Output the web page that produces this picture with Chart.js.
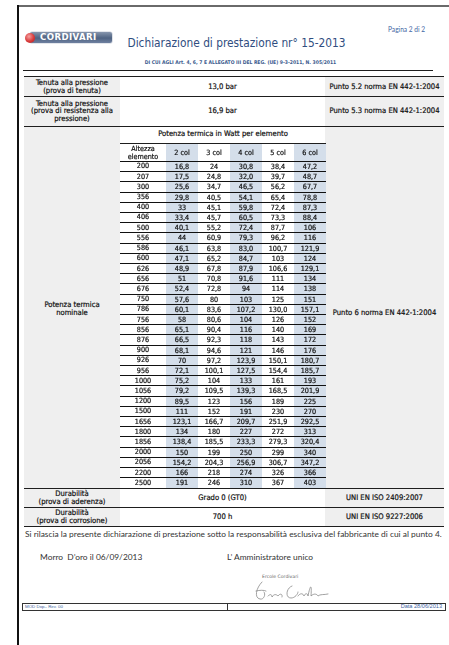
<!DOCTYPE html>
<html>
<head>
<meta charset="utf-8">
<script src="https://cdn.jsdelivr.net/npm/chart.js@4.4.0/dist/chart.umd.min.js"></script>
<style>
  html, body { margin: 0; padding: 0; background: #fff; }
  #page { position: relative; width: 449px; height: 645px; overflow: hidden;
    font-family: "DejaVu Sans Condensed", sans-serif; color: #111; }
  .abs { position: absolute; white-space: nowrap; }
  .cell { position: absolute; display: flex; align-items: center; justify-content: center;
    text-align: center; font-size: 7.6px; line-height: 7.6px; color: #111; white-space: nowrap;
    -webkit-text-stroke: 0.2px #111; }
  .gray { position: absolute; background: #efefef; }
  .hl { position: absolute; height: 1.3px; background: #1e1e1e; }
  .body { font-family: Lato, "Open Sans", sans-serif; font-size: 8.4px; color: #333; line-height: 10px; }
  .blue { color: #3f66a3; }
</style>
</head>
<body>
<div id="page">
  <!-- page frame -->
  <div class="abs" style="left:18px;top:5px;width:431px;height:1.5px;background:#6a6a6a"></div>
  <div class="abs" style="left:17px;top:5px;width:2px;height:640px;background:#111"></div>

  <!-- logo -->
  <div class="abs" style="left:30px;top:32px;width:82px;height:11px;border-radius:2px;
       background:linear-gradient(#8796ad,#4f6382 55%,#6f80a0);box-shadow:0 0 0 0.6px #c9cfd9"></div>
  <div class="abs" style="left:25px;top:32.5px;width:10px;height:10px;border-radius:50%;
       background:radial-gradient(circle at 40% 35%,#f4a0a0,#d83a3a 55%,#b01e1e)"></div>
  <div class="abs" style="left:40px;top:32px;font:bold 8.6px 'DejaVu Sans',sans-serif;letter-spacing:0.4px;color:#fff;line-height:11px">CORDIVARI</div>

  <div class="abs blue" style="left:388px;top:25px;font:6.6px Lato,sans-serif;line-height:8px">Pagina 2 di 2</div>
  <div class="abs" style="left:118px;top:36px;width:237px;text-align:center;font-size:11.8px;line-height:15px;color:#2f4d80">Dichiarazione di prestazione nr° 15-2013</div>
  <div class="abs" style="left:120px;top:58.5px;width:241px;text-align:center;font-size:5px;font-weight:bold;line-height:6px;color:#3b5b8e">DI CUI AGLI Art. 4, 6, 7 E ALLEGATO III DEL REG. (UE) 9-3-2011, N. 305/2011</div>
  <div class="hl" style="left:23px;top:69.5px;width:410px;height:1.4px"></div>

  <!-- table background -->
  <div class="gray" style="left:24px;top:76px;width:96px;height:451px"></div>
  <div class="gray" style="left:325px;top:76px;width:119px;height:451px"></div>

  <!-- table rules -->
  <div class="hl" style="left:24px;top:75.5px;width:420px"></div>
  <div class="hl" style="left:24px;top:96px;width:420px"></div>
  <div class="hl" style="left:24px;top:125.5px;width:420px"></div>
  <div class="hl" style="left:120px;top:142.8px;width:206px;height:1.1px"></div>
  <div class="hl" style="left:24px;top:488px;width:420px"></div>
  <div class="hl" style="left:24px;top:506.8px;width:420px"></div>
  <div class="hl" style="left:24px;top:526px;width:420px"></div>

  <!-- table text -->
  <div class="cell" style="left:24px;top:77px;width:96px;height:19px">Tenuta alla pressione<br>(prova di tenuta)</div>
  <div class="cell" style="left:120px;top:77px;width:205px;height:19px">13,0 bar</div>
  <div class="cell" style="left:325px;top:77px;width:119px;height:19px">Punto 5.2 norma EN 442-1:2004</div>

  <div class="cell" style="left:24px;top:97px;width:96px;height:28px">Tenuta alla pressione<br>(prova di resistenza alla<br>pressione)</div>
  <div class="cell" style="left:120px;top:97px;width:205px;height:28px">16,9 bar</div>
  <div class="cell" style="left:325px;top:97px;width:119px;height:28px">Punto 5.3 norma EN 442-1:2004</div>

  <div class="cell" style="left:120px;top:126px;width:206px;height:16.5px">Potenza termica in Watt per elemento</div>
  <div class="cell" style="left:24px;top:128px;width:96px;height:362px">Potenza termica<br>nominale</div>
  <div class="cell" style="left:325px;top:132px;width:119px;height:362px">Punto 6 norma EN 442-1:2004</div>

  <div style="position:absolute;left:120px;top:144px;width:206px;height:344px">
    <canvas id="grid" width="206" height="344"></canvas>
  </div>

  <div class="cell" style="left:24px;top:489px;width:96px;height:18px">Durabilità<br>(prova di aderenza)</div>
  <div class="cell" style="left:120px;top:489px;width:205px;height:18px">Grado 0 (GT0)</div>
  <div class="cell" style="left:325px;top:489px;width:119px;height:18px">UNI EN ISO 2409:2007</div>

  <div class="cell" style="left:24px;top:508px;width:96px;height:18px">Durabilità<br>(prova di corrosione)</div>
  <div class="cell" style="left:120px;top:508px;width:205px;height:18px">700 h</div>
  <div class="cell" style="left:325px;top:508px;width:119px;height:18px">UNI EN ISO 9227:2006</div>

  <!-- closing text -->
  <div class="abs body" style="left:25px;top:529px">Si rilascia la presente dichiarazione di prestazione sotto la responsabilità esclusiva del fabbricante di cui al punto 4.</div>
  <div class="abs body" style="left:40px;top:552px">Morro&nbsp; D’oro il 06/09/2013</div>
  <div class="abs body" style="left:227px;top:552px">L’ Amministratore unico</div>

  <!-- signature -->
  <div class="abs" style="left:262px;top:574px;font:4.6px 'DejaVu Sans',sans-serif;color:#666">Ercole Cordivari</div>
  <svg class="abs" style="left:248px;top:572px" width="90" height="32" viewBox="0 0 90 32">
    <path d="M14 10 C8 16 6 26 12 27 C16 28 18 22 16 20 M8 19 C12 18 16 18 18 19 M20 24 C22 22 24 22 24 25 C26 22 28 22 30 24 C32 21 35 22 34 25 M44 14 C38 16 37 26 43 26 C47 26 50 22 50 20 M50 24 C52 21 55 21 56 24 C57 21 60 21 60 24 C62 14 64 10 63 24 C66 21 69 22 70 24 C72 22 76 23 80 22"
          fill="none" stroke="#8a8a8a" stroke-width="0.8" stroke-linecap="round"/>
  </svg>

  <!-- footer box -->
  <div class="abs" style="left:21.5px;top:603px;width:422px;height:6px;border:1px solid #333"></div>
  <div class="abs" style="left:227px;top:603px;width:1px;height:8px;background:#333"></div>
  <div class="abs blue" style="left:25px;top:603.5px;font:4.4px 'Liberation Sans',sans-serif;line-height:6px">MOD Dop– Rev. 00</div>
  <div class="abs blue" style="left:380px;top:603px;width:62px;text-align:right;font:5.6px 'Liberation Sans',sans-serif;line-height:7px">Data 28/06/2013</div>
</div>

<script>
  // table contents
  const columns = ['2 col', '3 col', '4 col', '5 col', '6 col'];
  const heights = [200, 207, 300, 356, 400, 406, 500, 556, 586, 600, 626, 656, 676, 750, 786, 756,
                   856, 876, 900, 926, 956, 1000, 1056, 1200, 1500, 1656, 1800, 1856, 2000, 2056, 2200, 2500];
  const col2 = ['16,8', '17,5', '25,6', '29,8', '33', '33,4', '40,1', '44', '46,1', '47,1', '48,9', '51', '52,4', '57,6', '60,1', '58',
                '65,1', '66,5', '68,1', '70', '72,1', '75,2', '79,2', '89,5', '111', '123,1', '134', '138,4', '150', '154,2', '166', '191'];
  const col3 = ['24', '24,8', '34,7', '40,5', '45,1', '45,7', '55,2', '60,9', '63,8', '65,2', '67,8', '70,8', '72,8', '80', '83,6', '80,6',
                '90,4', '92,3', '94,6', '97,2', '100,1', '104', '109,5', '123', '152', '166,7', '180', '185,5', '199', '204,3', '218', '246'];
  const col4 = ['30,8', '32,0', '46,5', '54,1', '59,8', '60,5', '72,4', '79,3', '83,0', '84,7', '87,9', '91,6', '94', '103', '107,2', '104',
                '116', '118', '121', '123,9', '127,5', '133', '139,3', '156', '191', '209,7', '227', '233,3', '250', '256,9', '274', '310'];
  const col5 = ['38,4', '39,7', '56,2', '65,4', '72,4', '73,3', '87,7', '96,2', '100,7', '103', '106,6', '111', '114', '125', '130,0', '126',
                '140', '143', '146', '150,1', '154,4', '161', '168,5', '189', '230', '251,9', '272', '279,3', '299', '306,7', '326', '367'];
  const col6 = ['47,2', '48,7', '67,7', '78,8', '87,3', '88,4', '106', '116', '121,9', '124', '129,1', '134', '138', '151', '157,1', '152',
                '169', '172', '176', '180,7', '185,7', '193', '201,9', '225', '270', '292,5', '313', '320,4', '340', '347,2', '366', '403'];
  const values = [col2, col3, col4, col5, col6];

  const family = '"DejaVu Sans Condensed", sans-serif';
  const cellFont = '7.2px ' + family;
  const ink = '#111';
  const shade = '#d4deea';
  const firstColWidth = 46;
  const headerHeight = 17.5;

  // widest row label, so the labels can sit centred in the first column
  const m = document.createElement('canvas').getContext('2d');
  m.font = cellFont;
  const widest = Math.max(...heights.map(h => m.measureText(String(h)).width));

  function cellText(ctx, s, x, y) {
    ctx.fillText(s, x, y);
    ctx.strokeText(s, x, y);
  }

  const tableCells = {
    id: 'tableCells',
    beforeDraw(chart) {
      const {ctx, scales: {x, y}} = chart;
      ctx.save();
      ctx.fillStyle = shade;
      columns.forEach((c, j) => {
        if (j % 2) return;
        const l = x.getPixelForValue(j - 0.5);
        const r = x.getPixelForValue(j + 0.5);
        ctx.fillRect(l, x.top, r - l, y.bottom - x.top);
      });
      ctx.fillStyle = ink;
      ctx.strokeStyle = ink;
      ctx.lineWidth = 0.2;
      ctx.font = cellFont;
      ctx.textAlign = 'center';
      ctx.textBaseline = 'middle';
      const cx = (y.left + y.right) / 2;
      const cy = (x.top + x.bottom) / 2;
      cellText(ctx, 'Altezza', cx, cy - 3.8);
      cellText(ctx, 'elemento', cx, cy + 4.2);
      ctx.restore();
    },
    afterDatasetsDraw(chart) {
      const ctx = chart.ctx;
      ctx.save();
      ctx.fillStyle = ink;
      ctx.strokeStyle = ink;
      ctx.lineWidth = 0.2;
      ctx.font = cellFont;
      ctx.textAlign = 'center';
      ctx.textBaseline = 'middle';
      chart.data.datasets.forEach((ds, j) => {
        chart.getDatasetMeta(j).data.forEach((pt, i) => {
          cellText(ctx, ds.data[i].t, pt.x, pt.y + 0.5);
        });
      });
      ctx.restore();
    }
  };

  const config = {
    type: 'scatter',
    data: {
      datasets: columns.map((c, j) => ({
        label: c,
        data: heights.map((h, i) => ({ x: c, y: String(h), t: values[j][i] })),
        pointRadius: 0,
        pointHoverRadius: 0
      }))
    },
    options: {
      responsive: false,
      animation: false,
      devicePixelRatio: 1,
      events: [],
      layout: { padding: 0 },
      plugins: { legend: { display: false }, tooltip: { enabled: false } },
      scales: {
        x: {
          type: 'category',
          labels: columns,
          position: 'top',
          offset: true,
          grid: { display: false, drawTicks: false },
          border: { display: false },
          ticks: { color: ink, padding: 0, autoSkip: false, maxRotation: 0,
                   textStrokeColor: ink, textStrokeWidth: 0.2,
                   font: { family, size: 7.2, lineHeight: headerHeight + 'px' } },
          afterFit: s => { s.height = headerHeight; }
        },
        y: {
          type: 'category',
          labels: heights.map(String),
          offset: true,
          grid: { offset: true, color: '#111', lineWidth: 1, drawTicks: true, tickLength: firstColWidth },
          border: { display: false },
          ticks: { color: ink, autoSkip: false, crossAlign: 'center',
                   textStrokeColor: ink, textStrokeWidth: 0.2,
                   padding: -(firstColWidth / 2 + widest / 2),
                   font: { family, size: 7.2 } },
          afterFit: s => { s.width = firstColWidth; }
        }
      }
    },
    plugins: [tableCells]
  };

  const grid = new Chart(document.getElementById('grid'), config);
</script>
</body>
</html>
